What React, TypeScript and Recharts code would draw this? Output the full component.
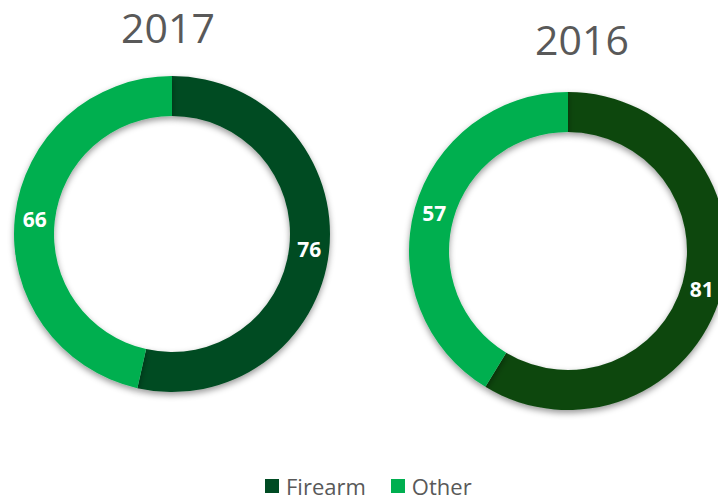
import React from 'react';
import { PieChart, Pie, Cell } from 'recharts';

const categories = ['Firearm', 'Other'];
const values2017 = [76, 66];
const values2016 = [81, 57];
const years = ['2017', '2016'];

const colors2017 = ['#004B23', '#00AF50'];
const colors2016 = ['#0C470E', '#00AF50'];
const legendColors = ['#004B23', '#00AF50'];

const data2017 = categories.map((name, i) => ({ name, value: values2017[i] }));
const data2016 = categories.map((name, i) => ({ name, value: values2016[i] }));

const FONT = '"Open Sans", "Noto Sans", sans-serif';
const RAD = Math.PI / 180;

const renderLabel = ({ cx, cy, midAngle, innerRadius, outerRadius, value }) => {
  const r = (innerRadius + outerRadius) / 2;
  const x = cx + r * Math.cos(-midAngle * RAD);
  const y = cy + r * Math.sin(-midAngle * RAD);
  return (
    <text x={x} y={y} fill="#fff" fontSize={21} fontWeight="bold" fontFamily={FONT}
      textAnchor="middle" dominantBaseline="central">
      {value}
    </text>
  );
};

const App = () => {
  return (
    <div style={{ position: 'absolute', left: 0, top: 0, width: 718, height: 500, background: '#fff', overflow: 'hidden' }}>
      <svg width={0} height={0} style={{ position: 'absolute' }}>
        <defs>
          <filter id="ringShadow" x="-20%" y="-20%" width="140%" height="140%">
            <feDropShadow dx="0" dy="3" stdDeviation="3" floodColor="#000" floodOpacity="0.4" />
          </filter>
        </defs>
      </svg>
      <style>{'.recharts-surface path{filter:url(#ringShadow);}'}</style>
      <PieChart width={718} height={500} margin={{ top: 0, right: 0, bottom: 0, left: 0 }}>
        <Pie data={data2017} dataKey="value" cx={172} cy={234} innerRadius={118} outerRadius={158}
          startAngle={90} endAngle={-270} stroke="none" label={renderLabel} labelLine={false}
          isAnimationActive={false}>
          {data2017.map((d, i) => <Cell key={d.name} fill={colors2017[i]} />)}
        </Pie>
        <Pie data={data2016} dataKey="value" cx={568} cy={251} innerRadius={119} outerRadius={159}
          startAngle={90} endAngle={-270} stroke="none" label={renderLabel} labelLine={false}
          isAnimationActive={false}>
          {data2016.map((d, i) => <Cell key={d.name} fill={colors2016[i]} />)}
        </Pie>
      </PieChart>
      <div style={{ position: 'absolute', left: 118, top: 2, width: 100, textAlign: 'center', fontFamily: FONT, fontSize: 41, lineHeight: '50px', color: '#595959' }}>
        {years[0]}
      </div>
      <div style={{ position: 'absolute', left: 532, top: 14, width: 100, textAlign: 'center', fontFamily: FONT, fontSize: 41, lineHeight: '50px', color: '#595959' }}>
        {years[1]}
      </div>
      <div style={{ position: 'absolute', left: 265, top: 474, display: 'flex', alignItems: 'center', fontFamily: FONT, fontSize: 22, color: '#595959', lineHeight: '24px' }}>
        {categories.map((c, i) => (
          <div key={c} style={{ display: 'flex', alignItems: 'center', marginRight: 25 }}>
            <span style={{ display: 'inline-block', width: 14, height: 14, background: legendColors[i], marginRight: 7 }} />
            <span>{c}</span>
          </div>
        ))}
      </div>
    </div>
  );
};

export default App;
